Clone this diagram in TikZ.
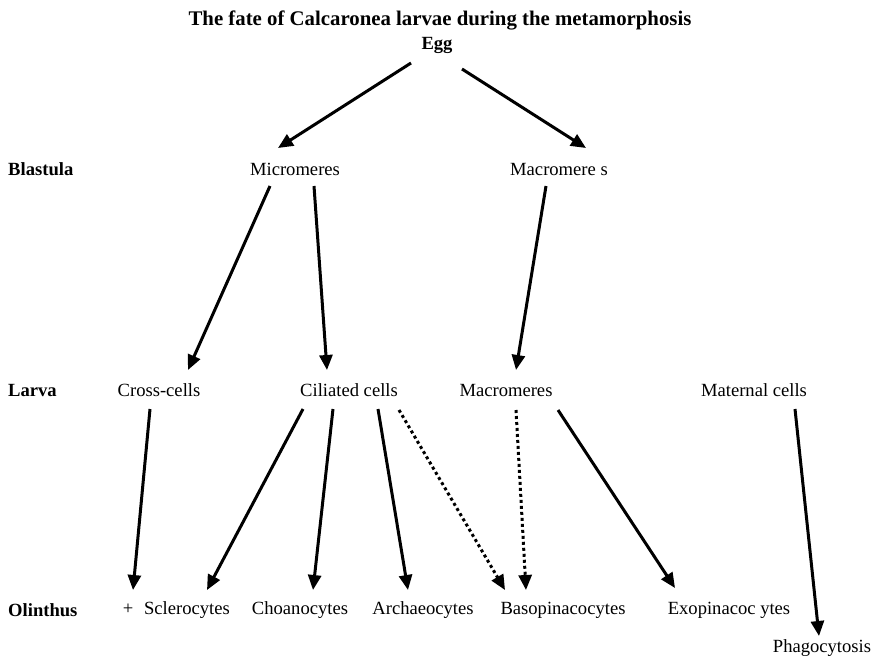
\documentclass[tikz,border=0pt]{standalone}
\usepackage{fontspec}
\setmainfont{Liberation Serif}
\usetikzlibrary{arrows.meta}
\begin{document}
\begin{tikzpicture}[x=1pt,y=-1pt,
  lbl/.style={inner sep=0pt,font=\fontsize{18.6}{20}\selectfont},
  blbl/.style={lbl,font=\fontsize{18.6}{20}\selectfont\bfseries},
  stage/.style={blbl,anchor=west},
  arr/.style={line width=3pt,-{Triangle[length=15pt,width=13pt]}},
  darr/.style={arr,dash pattern=on 3pt off 3pt}]
\useasboundingbox (0,0) rectangle (876,657);
\node[blbl,font=\fontsize{20.8}{22}\selectfont\bfseries] (title) at (440,20) {The fate of Calcaronea larvae during the metamorphosis};
\node[blbl] (egg) at (437,45) {Egg};
\node[stage] (blast) at (8,169) {Blastula};
\node[stage] (larva) at (8,390) {Larva};
\node[stage] (olin) at (8,610) {Olinthus};
\node[lbl] (mic) at (295,169) {Micromeres};
\node[lbl] (macs) at (559,169) {Macromere s};
\node[lbl] (cross) at (159,390) {Cross-cells};
\node[lbl] (cil) at (349,390) {Ciliated cells};
\node[lbl] (mac) at (506,390) {Macromeres};
\node[lbl] (mat) at (754,390) {Maternal cells};
\node[lbl] (plus) at (128,609) {+};
\node[lbl] (scl) at (187,610) {Sclerocytes};
\node[lbl] (cho) at (300,610) {Choanocytes};
\node[lbl] (arc) at (423,610) {Archaeocytes};
\node[lbl] (bas) at (563,610) {Basopinacocytes};
\node[lbl] (exo) at (729,610) {Exopinacoc ytes};
\node[lbl] (pha) at (822,648) {Phagocytosis};
% arrows (shifts relative to node centres; y shift positive = up)
\draw[arr] ([xshift=-26pt,yshift=-18pt]egg.center) -- ([xshift=-17pt,yshift=21pt]mic.center);
\draw[arr] ([xshift=25pt,yshift=-24pt]egg.center) -- ([xshift=27pt,yshift=21pt]macs.center);
\draw[arr] ([xshift=-25pt,yshift=-17pt]mic.center) -- ([xshift=29pt,yshift=20pt]cross.center);
\draw[arr] ([xshift=19pt,yshift=-17pt]mic.center) -- ([xshift=-22pt,yshift=20pt]cil.center);
\draw[arr] ([xshift=-13pt,yshift=-17pt]macs.center) -- ([xshift=10pt,yshift=20pt]mac.center);
\draw[arr] ([xshift=-9pt,yshift=-19pt]cross.center) -- ([xshift=5pt,yshift=19pt]plus.center);
\draw[arr] ([xshift=-46pt,yshift=-19pt]cil.center) -- ([xshift=20pt,yshift=20pt]scl.center);
\draw[arr] ([xshift=-16pt,yshift=-19pt]cil.center) -- ([xshift=13pt,yshift=20pt]cho.center);
\draw[arr] ([xshift=29pt,yshift=-19pt]cil.center) -- ([xshift=-15pt,yshift=20pt]arc.center);
\draw[darr] ([xshift=50pt,yshift=-20pt]cil.center) -- ([xshift=-58pt,yshift=20pt]bas.center);
\draw[darr] ([xshift=10pt,yshift=-20pt]mac.center) -- ([xshift=-37pt,yshift=20pt]bas.center);
\draw[arr] ([xshift=52pt,yshift=-20pt]mac.center) -- ([xshift=-54pt,yshift=22pt]exo.center);
\draw[arr] ([xshift=41pt,yshift=-19pt]mat.center) -- ([xshift=-3pt,yshift=12pt]pha.center);
\end{tikzpicture}
\end{document}
